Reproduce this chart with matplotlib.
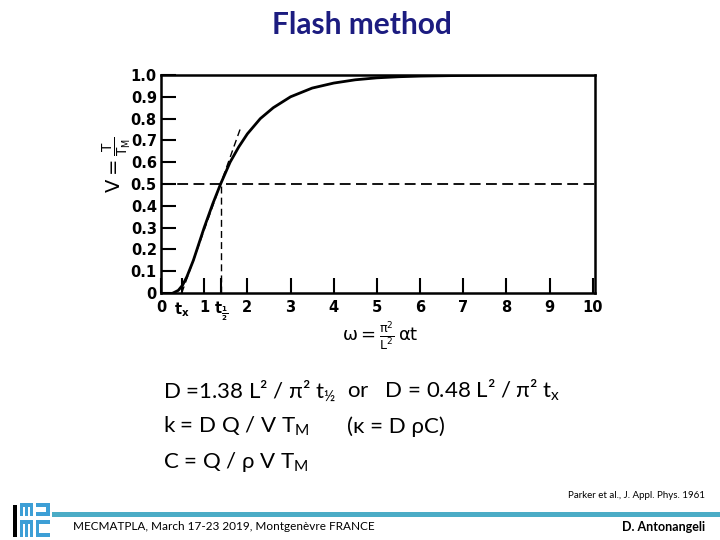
import matplotlib.pyplot as plt
from matplotlib.patches import Rectangle

plt.rcParams['mathtext.default'] = 'regular'

# Curve (Parker et al. 1961)
omega = [0.28, 0.40, 0.50, 0.60, 0.75, 0.90, 1.00, 1.20, 1.38, 1.60, 1.80, 2.00,
         2.30, 2.60, 3.00, 3.50, 4.00, 4.50, 5.00, 5.50, 6.00, 7.00, 8.00, 9.00, 10.0]
v_ratio = [0.0, 0.012, 0.036, 0.075, 0.15, 0.24, 0.30, 0.41, 0.50, 0.60, 0.67, 0.73,
           0.80, 0.85, 0.90, 0.94, 0.963, 0.978, 0.987, 0.992, 0.995, 0.998, 1.0, 1.0, 1.0]

t_x = 0.48
t_half = 1.38
tangent_end = 1.83

x_ticks = [0, t_x, 1, t_half, 2, 3, 4, 5, 6, 7, 8, 9, 10]
x_labels = ['0', '$t_x$', '1', r'$t_{\frac{1}{2}}$', '2', '3', '4', '5', '6', '7', '8', '9', '10']
y_ticks = [0, 0.1, 0.2, 0.3, 0.4, 0.5, 0.6, 0.7, 0.8, 0.9, 1.0]
y_labels = ['0', '0.1', '0.2', '0.3', '0.4', '0.5', '0.6', '0.7', '0.8', '0.9', '1.0']

W, H = 720, 540
fig = plt.figure(figsize=(7.2, 5.4), dpi=100)

def fx(px):
    return px / W

def fy(py):
    return 1 - py / H

# title
fig.text(fx(362), fy(25), 'Flash method', ha='center', va='center',
         fontsize=21.5, fontweight='bold', color='#1c1c80', family='Lato')

# plot area
ax = fig.add_axes([fx(161), fy(293), fx(595) - fx(161), fy(75) - fy(293)])
ax.plot(omega, v_ratio, color='black', lw=2)
ax.axhline(0.5, color='black', lw=1.3, ls=(0, (6, 3)))
ax.plot([t_half, t_half], [0, 0.5], color='black', lw=1, ls=(0, (5, 3)))
slope = 0.5 / (t_half - t_x)
ax.plot([t_x, tangent_end], [0, slope * (tangent_end - t_x)], color='black', lw=1, ls=(0, (5, 3)))

ax.set_xlim(0, 10.05)
ax.set_ylim(0, 1.0)
ax.set_xticks(x_ticks)
ax.set_xticklabels(x_labels)
ax.set_yticks(y_ticks)
ax.set_yticklabels(y_labels)
ax.tick_params(direction='in', length=11, width=1.5, labelsize=10.5, pad=3)
ax.tick_params(axis='x', pad=5)
for lab in ax.get_xticklabels() + ax.get_yticklabels():
    lab.set_fontweight('bold')
for s in ax.spines.values():
    s.set_linewidth(1.8)

fig.text(fx(117), fy(165), r'$V = \frac{T}{T_M}$', rotation=90, ha='center', va='center', fontsize=14)
fig.text(fx(380), fy(336), r'$\omega = \frac{\pi^2}{L^2}\,\alpha t$', ha='center', va='center', fontsize=13)

# formulas
fkw = dict(fontsize=16, family='Lato', va='baseline', color='black')
fig.text(fx(163), fy(398), r'D =1.38 L² / π² t$_{½}$', **fkw)
fig.text(fx(347), fy(398), r'or   D = 0.48 L² / π² t$_x$', **fkw)
fig.text(fx(163), fy(433), r'k = D Q / V T$_M$', **fkw)
fig.text(fx(347), fy(433), r'(κ = D ρC)', **fkw)
fig.text(fx(163), fy(468), r'C = Q / ρ V T$_M$', **fkw)

# footer
fig.text(fx(705), fy(495), 'Parker et al., J. Appl. Phys. 1961', ha='right', va='center',
         fontsize=7, family='Lato')
fig.add_artist(Rectangle((fx(52), fy(517)), fx(720) - fx(52), fy(512) - fy(517),
                         transform=fig.transFigure, color='#4bacc6', lw=0))
fig.text(fx(73), fy(527), 'MECMATPLA, March 17-23 2019, Montgenèvre FRANCE', ha='left', va='center',
         fontsize=8.5, family='Lato')
fig.text(fx(705), fy(527), 'D. Antonangeli', ha='right', va='center',
         fontsize=9, fontweight='bold', family='Lato')

# logo (rough blocks)
def block(x0, y0, x1, y1, c):
    fig.add_artist(Rectangle((fx(x0), fy(y1)), fx(x1) - fx(x0), fy(y0) - fy(y1),
                             transform=fig.transFigure, color=c, lw=0))

blue = '#3d9fd6'
block(13, 505, 17, 537, 'black')
block(20, 503, 33, 516, blue)
block(23, 507, 25, 516, 'white')
block(28, 507, 30, 516, 'white')
block(36, 503, 50, 516, blue)
block(36, 507, 46, 512, 'white')
block(20, 520, 33, 537, blue)
block(23, 524, 25, 537, 'white')
block(28, 524, 30, 537, 'white')
block(36, 520, 50, 537, blue)
block(39, 524, 50, 533, 'white')

fig.savefig('out.png', dpi=100)
